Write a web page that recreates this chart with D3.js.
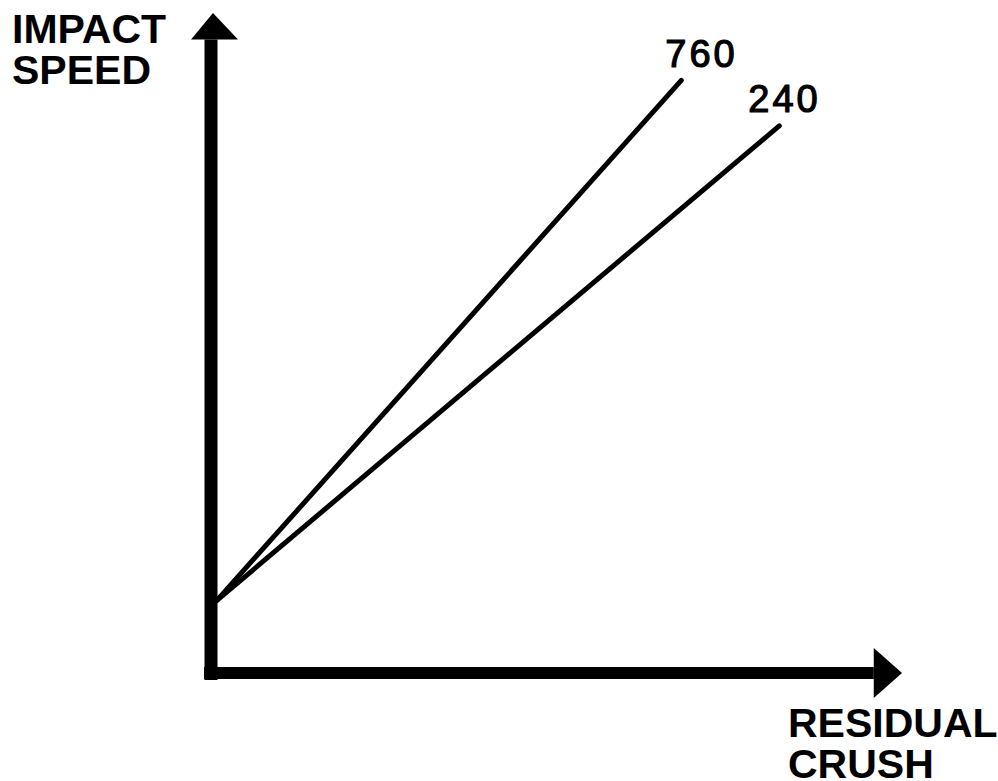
<!DOCTYPE html>
<html>
<head>
<meta charset="utf-8">
<script src="https://cdn.jsdelivr.net/npm/d3@7"></script>
<style>
  body { margin: 0; background: #fff; }
  svg { display: block; }
  text { font-family: "Liberation Sans", Arial, Helvetica, sans-serif; fill: #000; }
</style>
</head>
<body>
<svg id="chart" width="998" height="781"></svg>
<script>
// series (crush stiffness labels) and their straight lines
const seriesLabels = ["760", "240"];
const startCrush = 0.1;   // lines meet near the speed axis
const startSpeed = 1.1;
const endCrush = [6.83, 8.25];
const endSpeed = [8.98, 8.29];

const svg = d3.select('#chart');

// scales: origin at the corner of the two axes
const x = d3.scaleLinear().domain([0, 10]).range([210, 900]);
const y = d3.scaleLinear().domain([0, 10]).range([673, 13]);

const lineData = seriesLabels.map((label, i) => ({
    label: label,
    points: [[startCrush, startSpeed], [endCrush[i], endSpeed[i]]]
}));

const line = d3.line()
    .x(d => x(d[0]))
    .y(d => y(d[1]));

// lines
svg.selectAll('.series')
    .data(lineData)
    .enter().append('path')
    .attr('class', 'series')
    .attr('d', d => line(d.points))
    .attr('fill', 'none')
    .attr('stroke', '#000')
    .attr('stroke-width', 5)
    .attr('stroke-linecap', 'round');

// line labels, placed just above each line end
const labelOffsets = [[-16, -13], [-31, -14]];
svg.selectAll('.series-label')
    .data(lineData)
    .enter().append('text')
    .attr('class', 'series-label')
    .attr('x', (d, i) => x(d.points[1][0]) + labelOffsets[i][0])
    .attr('y', (d, i) => y(d.points[1][1]) + labelOffsets[i][1])
    .style('font-size', '38px')
    .style('letter-spacing', '3px')
    .attr('stroke', '#000')
    .attr('stroke-width', 1.2)
    .text(d => d.label);

// y axis shaft + arrow head
const axisW = 13;
svg.append('line')
    .attr('x1', x(0) + 1).attr('y1', y(0) + 7)
    .attr('x2', x(0) + 1).attr('y2', y(9.6))
    .attr('stroke', '#000')
    .attr('stroke-width', axisW);
svg.append('path')
    .attr('d', `M${x(0) + 3},${y(10)} L${x(0) + 28},${y(9.6)} L${x(0) - 19},${y(9.6)} Z`)
    .attr('fill', '#000');

// x axis shaft + arrow head
svg.append('line')
    .attr('x1', x(0) - 6).attr('y1', y(0))
    .attr('x2', x(9.62)).attr('y2', y(0))
    .attr('stroke', '#000')
    .attr('stroke-width', axisW - 1);
svg.append('path')
    .attr('d', `M${x(10) + 2},${y(0)} L${x(9.62)},${y(0) - 25} L${x(9.62)},${y(0) + 25} Z`)
    .attr('fill', '#000');

// axis titles
const yTitle = svg.append('text')
    .attr('x', 12)
    .attr('y', 43)
    .style('font-size', '41px')
    .style('font-weight', 'bold');
yTitle.append('tspan').attr('x', 12).text('IMPACT');
yTitle.append('tspan').attr('x', 12).attr('dy', 41).text('SPEED');

const xTitle = svg.append('text')
    .attr('x', 788)
    .attr('y', 737)
    .style('font-size', '41px')
    .style('font-weight', 'bold');
xTitle.append('tspan').attr('x', 788).text('RESIDUAL');
xTitle.append('tspan').attr('x', 788).attr('dy', 41).text('CRUSH');
</script>
</body>
</html>
